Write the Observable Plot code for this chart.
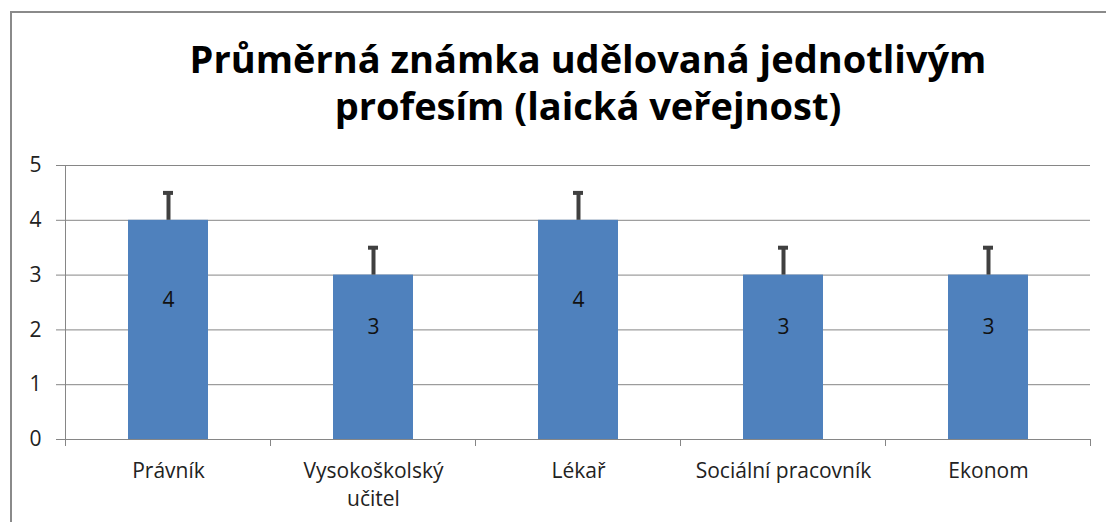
<!DOCTYPE html>
<html>
<head>
<meta charset="utf-8">
<script src="https://cdn.jsdelivr.net/npm/d3@7"></script>
<script src="https://cdn.jsdelivr.net/npm/@observablehq/plot@0.6"></script>
<style>
  html, body { margin: 0; padding: 0; background: #fff; overflow: hidden; width: 1106px; height: 522px; }
  #wrap { position: relative; width: 1106px; height: 522px; overflow: hidden; }
  #frame { position: absolute; left: 10px; top: 11px; width: 1200px; height: 600px; border-left: 2px solid #8a8a8a; border-top: 2px solid #8a8a8a; }
  #title { position: absolute; left: 0; top: 35px; width: 1176px; text-align: center; font-family: "Open Sans", sans-serif; font-weight: bold; font-size: 38px; line-height: 47px; color: #000; }
  #chart { position: absolute; left: 0; top: 140px; }
</style>
</head>
<body>
<div id="wrap">
  <div id="frame"></div>
  <div id="title">Průměrná známka udělovaná jednotlivým<br>profesím (laická veřejnost)</div>
  <div id="chart"></div>
</div>
<script>
const categories = ["Právník", "Vysokoškolský učitel", "Lékař", "Sociální pracovník", "Ekonom"];
const tickLabels = ["Právník", "Vysokoškolský\nučitel", "Lékař", "Sociální pracovník", "Ekonom"];
const values = [4, 3, 4, 3, 3];
const errors = [0.5, 0.5, 0.5, 0.5, 0.5];
const yTicks = [0, 1, 2, 3, 4, 5];

const data = categories.map((c, i) => ({cat: c, value: values[i], err: errors[i]}));
const labelOf = new Map(categories.map((c, i) => [c, tickLabels[i]]));

const font = "'Open Sans', sans-serif";
const plot = Plot.plot({
  width: 1106,
  height: 382,
  marginTop: 25,
  marginBottom: 83,
  marginLeft: 65,
  marginRight: 16,
  style: {fontFamily: font, fontSize: "21px", color: "#222", background: "transparent"},
  x: {domain: categories, paddingInner: 0.61, paddingOuter: 0.305, label: null},
  y: {domain: [0, 5], label: null},
  marks: [
    Plot.gridY(yTicks, {stroke: "#868686", strokeOpacity: 1, strokeWidth: 1}),
    Plot.axisY(yTicks, {tickSize: 9, tickPadding: 15, stroke: "#868686", fontSize: 21, fill: "#222", label: null, tickFormat: d3.format("d")}),
    Plot.axisX({tickSize: 0, tickPadding: 18, fontSize: 21, fill: "#222", label: null, tickFormat: d => labelOf.get(d), lineHeight: 1.35}),
    Plot.barY(data, {x: "cat", y: "value", fill: "#4F81BD"}),
    Plot.ruleY([0], {stroke: "#868686"}),
    Plot.ruleX(data, {x: "cat", y1: "value", y2: d => d.value + d.err, stroke: "#404040", strokeWidth: 4}),
    Plot.tickY(data, {x: "cat", y: d => d.value + d.err, stroke: "#404040", strokeWidth: 4, insetLeft: 35, insetRight: 35}),
    Plot.text(data, {x: "cat", y: d => d.value / 2, dy: -30, text: d => String(d.value), fontSize: 21, fill: "#111"})
  ]
});
document.getElementById("chart").appendChild(plot);

// category boundary ticks and vertical axis line, from Plot's own scales
const xs = plot.scale("x");
const ys = plot.scale("y");
const svg = d3.select(plot);
const step = xs.step;
const y0 = ys.apply(0);
const y5 = ys.apply(5);
const bounds = categories.map(c => xs.apply(c) - (step - xs.bandwidth) / 2);
bounds.push(bounds[bounds.length - 1] + step);
svg.append("g").selectAll("line").data(bounds).join("line")
  .attr("x1", d => d).attr("x2", d => d)
  .attr("y1", (d, i) => i === 0 ? y5 : y0)
  .attr("y2", y0 + 7)
  .attr("stroke", "#868686").attr("stroke-width", 1);
</script>
</body>
</html>
